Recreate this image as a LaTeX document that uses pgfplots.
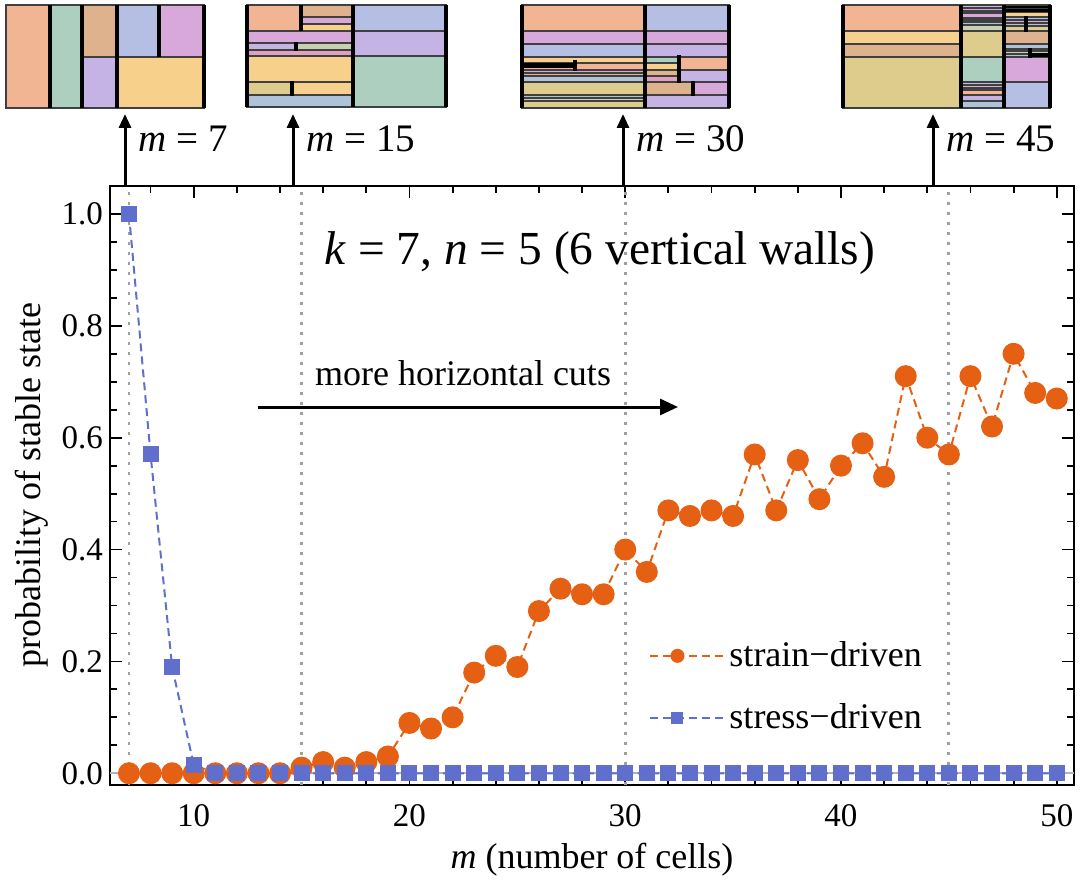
\documentclass[border=0pt]{standalone}
\usepackage{fontspec}
\setmainfont{Liberation Serif}
\usepackage{pgfplots}
\pgfplotsset{compat=1.18}
\usetikzlibrary{arrows.meta}

\definecolor{strain}{HTML}{E66014}
\definecolor{stress}{HTML}{5F6FCB}
\definecolor{cO}{HTML}{F2B594}
\definecolor{cG}{HTML}{ADCFC0}
\definecolor{cT}{HTML}{DEB28C}
\definecolor{cV}{HTML}{C5B3E6}
\definecolor{cB}{HTML}{B5BEE3}
\definecolor{cP}{HTML}{D8A8DA}
\definecolor{cY}{HTML}{F7D18C}
\definecolor{cK}{HTML}{DDCC8C}
\definecolor{cL}{HTML}{ADC3DA}
\definecolor{cR}{HTML}{E0A0C0}
\definecolor{cE}{HTML}{C8D0B0}

\pgfplotsset{
  legimg/.style={legend image code/.code={\path (0pt,0pt) -- (37pt,0pt); \draw[##1, mark size=#1, mark repeat=2, mark phase=2] plot coordinates {(0pt,0pt) (13.5pt,0pt) (27pt,0pt)};}}
}

\newcommand\cell[5]{\fill[#5] (#1,#2) rectangle (#3,#4); \draw[line width=0.6pt, black!75] (#1,#2) rectangle (#3,#4);}
\newcommand\wall[3]{\draw[line width=2pt] (#1,#2) -- (#1,#3);}

\begin{document}
\begin{tikzpicture}
\begin{axis}[
  scale only axis,
  width=482pt, height=299.5pt,
  at={(55pt,-392.5pt)}, anchor=south west,
  xmin=6.12, xmax=50.8,
  ymin=-0.021, ymax=1.05,
  axis line style={line width=1.2pt},
  every tick/.style={black, line width=0.9pt},
  major tick length=6pt, minor tick length=3.5pt,
  tick align=inside,
  xtick={10,20,30,40,50},
  minor xtick={8,10,...,50},
  ytick={0,0.2,0.4,0.6,0.8,1.0},
  minor ytick={0,0.05,...,1.05},
  tick pos=both,
  xticklabel pos=bottom, yticklabel pos=left,
  /pgf/number format/assume math mode=true,
  ticklabel style={font=\fontsize{16.5}{19}\selectfont},
  xticklabel style={yshift=-6pt},
  yticklabel style={/pgf/number format/.cd, fixed, fixed zerofill, precision=1},
  xlabel={\textit{m} (number of cells)},
  ylabel={probability of stable state},
  xlabel style={yshift=-1.5pt},
  label style={font=\fontsize{18}{21}\selectfont},
  legend style={at={(0.553,0.253)}, anchor=north west, draw=none, fill=none,
    font=\fontsize{18}{21}\selectfont, row sep=13pt},
  legend cell align=left,
]
\draw[gray!75, line width=1.4pt, dash pattern=on 1.4pt off 3.6pt] (axis cs:7,-0.021) -- (axis cs:7,1.05);
\draw[gray!75, line width=1.4pt, dash pattern=on 1.4pt off 3.6pt] (axis cs:15,-0.021) -- (axis cs:15,1.05);
\draw[gray!75, line width=1.4pt, dash pattern=on 1.4pt off 3.6pt] (axis cs:30,-0.021) -- (axis cs:30,1.05);
\draw[gray!75, line width=1.4pt, dash pattern=on 1.4pt off 3.6pt] (axis cs:45,-0.021) -- (axis cs:45,1.05);
\draw[black!30, line width=1pt] (axis cs:6.12,0) -- (axis cs:50.8,0);

\addplot[strain, line width=1pt, dash pattern=on 4pt off 2.5pt, mark=*, mark size=5pt, mark options={solid}, legimg=3pt]
coordinates {
(7,0) (8,0) (9,0) (10,0) (11,0) (12,0) (13,0) (14,0) (15,0.01)
(16,0.02) (17,0.01) (18,0.02) (19,0.03) (20,0.09) (21,0.08) (22,0.10)
(23,0.18) (24,0.21) (25,0.19) (26,0.29) (27,0.33) (28,0.32) (29,0.32)
(30,0.40) (31,0.36) (32,0.47) (33,0.46) (34,0.47) (35,0.46) (36,0.57)
(37,0.47) (38,0.56) (39,0.49) (40,0.55) (41,0.59) (42,0.53) (43,0.71)
(44,0.60) (45,0.57) (46,0.71) (47,0.62) (48,0.75) (49,0.68) (50,0.67)
};
\addlegendentry{strain−driven}
\addplot[stress, line width=1pt, dash pattern=on 4pt off 2.5pt, mark=square*, mark size=3.5pt, mark options={solid}, legimg=2.5pt]
coordinates {
(7,1.0) (8,0.57) (9,0.19) (10,0.015) (11,0) (12,0) (13,0) (14,0) (15,0)
(16,0) (17,0) (18,0) (19,0) (20,0) (21,0) (22,0) (23,0) (24,0) (25,0)
(26,0) (27,0) (28,0) (29,0) (30,0) (31,0) (32,0) (33,0) (34,0) (35,0)
(36,0) (37,0) (38,0) (39,0) (40,0) (41,0) (42,0) (43,0) (44,0) (45,0)
(46,0) (47,0) (48,0) (49,0) (50,0)
};
\addlegendentry{stress−driven}
\end{axis}

\begin{scope}[x=0.5pt, y=-0.5pt]
\path[use as bounding box] (0,0) rectangle (1080,880);
% annotations inside plot
\node[anchor=base, font=\fontsize{23.7}{28}\selectfont] at (600,265) {\textit{k} = 7, \textit{n} = 5 (6 vertical walls)};
\node[anchor=base, font=\fontsize{18}{21}\selectfont] at (463,385) {more horizontal cuts};
\draw[line width=1.5pt, -{Triangle[length=9pt, width=8pt]}] (258,407) -- (678,407);
% arrows from top frame
\foreach \xa/\lab in {125/7, 293/15, 623/30, 933/45}{
  \draw[line width=1.5pt, -{Triangle[length=7pt, width=6pt]}] (\xa,186) -- (\xa,114);
  \node[anchor=base west, font=\fontsize{19.5}{23}\selectfont, inner sep=0pt] at (\xa+13,152) {\textit{m} = \lab};
}
% panel 1
\cell{6}{5}{50}{108}{cO}
\cell{50}{5}{82}{108}{cG}
\cell{82}{5}{117}{57}{cT}
\cell{82}{57}{117}{108}{cV}
\cell{117}{5}{159}{57}{cB}
\cell{159}{5}{204}{57}{cP}
\cell{117}{57}{204}{108}{cY}
\wall{50}{5}{108}\wall{82}{5}{108}\wall{117}{5}{108}\wall{204}{5}{108}\wall{159}{5}{57}
% panel 2
\cell{247}{5}{301}{31}{cO}
\cell{301}{5}{353}{17}{cT}
\cell{301}{17}{353}{24}{cP}
\cell{301}{24}{353}{31}{cY}
\cell{247}{31}{353}{43}{cP}
\cell{247}{43}{296}{50}{cV}
\cell{296}{43}{353}{50}{cE}
\cell{247}{50}{353}{56}{cR}
\cell{247}{56}{353}{82}{cY}
\cell{247}{82}{292}{95}{cK}
\cell{292}{82}{353}{95}{cY}
\cell{247}{95}{353}{107}{cL}
\cell{353}{5}{446}{31}{cB}
\cell{353}{31}{446}{56}{cV}
\cell{353}{56}{446}{107}{cG}
\wall{247}{5}{107}\wall{353}{5}{107}\wall{446}{5}{107}
\wall{301}{5}{31}\wall{296}{42}{51}\wall{292}{81}{96}
% panel 3
\cell{522}{5}{645}{31}{cO}
\cell{522}{31}{645}{44}{cP}
\cell{522}{44}{645}{57}{cB}
\cell{522}{57}{645}{63}{cY}
\cell{522}{63}{645}{70}{cO}
\cell{522}{70}{645}{73}{cP}
\cell{522}{73}{645}{76}{cT}
\cell{522}{76}{645}{82}{cL}
\cell{522}{82}{645}{95}{cK}
\cell{522}{95}{645}{98}{cB}
\cell{522}{98}{645}{101}{cE}
\cell{522}{101}{645}{108}{cK}
\cell{645}{5}{729}{31}{cB}
\cell{645}{31}{729}{44}{cP}
\cell{645}{44}{729}{57}{cV}
\cell{645}{57}{679}{63}{cG}
\cell{645}{63}{679}{70}{cY}
\cell{645}{70}{679}{76}{cT}
\cell{645}{76}{679}{82}{cR}
\cell{679}{57}{729}{70}{cO}
\cell{679}{70}{729}{82}{cV}
\cell{645}{82}{693}{95}{cT}
\cell{693}{82}{729}{95}{cP}
\cell{645}{95}{729}{108}{cV}
\draw[line width=2.2pt] (522,65.5) -- (575,65.5);
\wall{522}{5}{108}\wall{645}{5}{108}\wall{729}{5}{108}
\wall{679}{55}{83}\wall{693}{81}{96}\wall{575}{60}{71}
% panel 4
\cell{843}{5}{961}{31}{cO}
\cell{843}{31}{961}{44}{cY}
\cell{843}{44}{961}{57}{cT}
\cell{843}{57}{961}{108}{cK}
\foreach \ya/\yb/\cc in {5/8/cB, 8/11/cP, 11/13/cB, 13/18/cP, 18/20/cT, 20/22/cO, 22/25/cL, 25/31/cE, 31/57/cK, 57/82/cG, 82/85/cB, 85/88/cP, 88/90/cT, 90/95/cO, 95/101/cV, 101/108/cL}{
  \cell{961}{\ya}{1004}{\yb}{\cc}
}
\foreach \ya/\yb/\cc in {5/7/cB, 7/9/cL, 9/12/cB, 12/17/cY, 17/20/cB, 20/23/cP, 23/26/cL, 26/31/cK, 31/44/cT, 44/49/cL, 49/51/cO, 51/54/cE, 54/57/cB, 57/82/cP, 82/108/cB}{
  \cell{1004}{\ya}{1050}{\yb}{\cc}
}
\draw[line width=1.2pt] (1004,7) -- (1050,7);
\draw[line width=1.2pt] (1004,10.5) -- (1050,10.5);
\draw[line width=2pt] (1030,55) -- (1050,55);
\wall{843}{5}{108}\wall{961}{5}{108}\wall{1004}{5}{108}\wall{1050}{5}{108}
\wall{1026}{16}{32}\wall{1030}{48}{58}
\end{scope}
\end{tikzpicture}
\end{document}
